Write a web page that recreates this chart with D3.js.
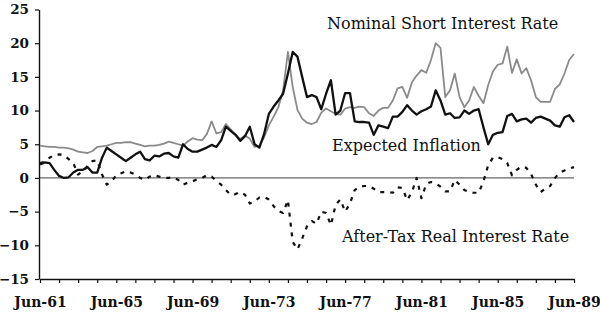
<!DOCTYPE html>
<html lang="en">
<head>
  <meta charset="UTF-8">
  <title>Interest rates and inflation</title>
  <script src="https://d3js.org/d3.v7.min.js"></script>
  <style>
    body {
      margin: 0;
      background: #fff;
    }
    .tick text {
      font-family: "DejaVu Serif", serif;
      font-weight: bold;
      font-size: 14px;
      fill: #111;
    }
    .y-axis .tick text {
      font-size: 13.5px;
    }
    .note {
      font-family: "DejaVu Serif", serif;
      font-size: 16px;
      fill: #111;
    }
    .series {
      fill: none;
      stroke-linejoin: round;
    }
  </style>
</head>
<body>
  <svg id="chart" width="600" height="334"></svg>
  <script>
    // quarterly observations, Jun-61 to Jun-89
    const quarters = d3.range(113).map(k => new Date(1961, 5 + 3 * k, 1));

    const nominal = [
      4.8, 4.7, 4.6, 4.6, 4.5, 4.5, 4.4, 4.2, 3.9, 3.8,
      3.7, 4.0, 4.6, 4.7, 4.8, 5.0, 5.2, 5.2, 5.3, 5.3,
      5.1, 4.9, 4.7, 4.8, 4.8, 4.9, 5.1, 5.4, 5.2, 5.0,
      4.8, 5.4, 5.9, 5.7, 5.6, 6.5, 8.4, 6.6, 6.8, 8.0,
      7.2, 6.4, 5.8, 6.3, 5.8, 4.6, 4.8, 6.0, 7.8, 9.1,
      10.5, 13.0, 18.7, 13.5, 10.1, 8.8, 8.2, 8.0, 8.3, 9.7,
      10.3, 9.9, 9.5, 9.4, 10.3, 10.5, 10.4, 10.6, 10.5, 9.6,
      9.2, 10.0, 10.4, 10.4, 11.5, 13.3, 13.5, 11.9, 14.2, 15.2,
      16.0, 15.6, 17.5, 20.0, 19.3, 12.0, 13.0, 15.5, 12.0, 10.5,
      11.5, 13.5, 12.2, 11.1, 13.8, 15.8, 16.8, 17.0, 19.5, 15.6,
      17.6, 15.5, 16.3, 14.5, 12.0, 11.3, 11.3, 11.3, 13.2, 13.9,
      15.5, 17.5, 18.4
    ];

    const inflation = [
      2.0, 2.3, 2.2, 1.2, 0.3, 0.0, 0.1, 0.8, 1.2, 1.2,
      1.6, 0.8, 0.8, 3.0, 4.5, 4.0, 3.5, 3.0, 2.5, 3.0,
      3.5, 3.9, 2.8, 2.6, 3.3, 3.2, 3.6, 3.7, 3.2, 3.0,
      5.0, 4.3, 3.9, 3.9, 4.2, 4.5, 4.9, 4.6, 5.6, 7.6,
      7.0, 6.4, 5.5, 6.2, 7.6, 5.0, 4.5, 6.5, 9.5, 10.6,
      11.5, 12.5, 15.5, 18.7, 18.0, 15.0, 12.0, 12.3, 12.0, 10.2,
      12.5, 14.5, 9.4, 10.0, 12.6, 12.6, 8.4, 8.3, 8.3, 8.2,
      6.4, 7.8, 7.6, 7.4, 9.1, 9.1, 9.8, 10.8, 10.0, 9.4,
      9.9, 10.2, 10.6, 13.0, 11.5, 9.4, 9.6, 8.9, 9.0, 10.0,
      9.5, 10.0, 10.2, 7.5, 5.0, 6.4, 6.7, 6.8, 9.2, 9.5,
      8.4, 8.7, 8.8, 8.2, 8.9, 9.1, 8.8, 8.5, 7.8, 7.6,
      9.0, 9.3, 8.3
    ];

    const realAfterTax = [
      2.2, 2.4, 3.0, 3.4, 3.5, 3.4, 2.8, 2.2, 0.5, 1.0,
      1.8, 2.5, 2.6, 0.5, -1.0, -0.5, 0.4, 0.7, 1.0, 0.8,
      0.5, 0.0, -0.3, 0.2, 0.4, 0.2, 0.0, 0.0, 0.1, -0.3,
      -1.0, -0.7, -0.5, -0.2, 0.0, 0.4, 0.2, -0.5, -1.0, -1.8,
      -2.5, -2.4, -2.1, -2.5, -3.8, -3.5, -2.9, -2.8, -3.2, -4.2,
      -4.9, -5.2, -3.3, -9.5, -10.6, -9.0, -7.2, -6.4, -6.8, -5.0,
      -5.2, -7.0, -4.0, -3.2, -5.0, -3.8, -1.8, -1.3, -1.2, -1.2,
      -1.6, -2.1, -2.1, -2.1, -2.2, -1.4, -1.5, -3.3, -2.1, 0.0,
      -3.0, -0.9, -0.6, -0.8, -1.3, -2.0, -2.0, -0.3, -1.0, -1.8,
      -2.1, -2.2, -2.2, -0.5, 1.9, 3.0, 3.1, 2.8, 2.2, 0.4,
      1.2, 1.7, 1.5, 0.6, -1.0, -2.1, -1.6, -1.2, 0.0, 0.8,
      1.1, 1.4, 1.6
    ];

    const yTicks = [-15, -10, -5, 0, 5, 10, 15, 20, 25];
    const labelYears = [1961, 1965, 1969, 1973, 1977, 1981, 1985, 1989];

    const svg = d3.select("#chart");

    const x = d3.scaleTime()
      .domain([new Date(1961, 5, 1), new Date(1989, 5, 1)])
      .range([40, 574]);

    const y = d3.scaleLinear()
      .domain([-15, 25])
      .range([279, 9.5]);

    // zero reference line
    svg.append("line")
      .attr("x1", x.range()[0]).attr("x2", x.range()[1])
      .attr("y1", y(0)).attr("y2", y(0))
      .attr("stroke", "#666")
      .attr("stroke-width", 1.2);

    // y axis
    const yAxis = svg.append("g")
      .attr("class", "y-axis")
      .attr("transform", `translate(${x.range()[0] - 1},0)`)
      .call(d3.axisLeft(y).tickValues(yTicks).tickSize(4).tickSizeOuter(0).tickPadding(6));
    yAxis.select(".domain").attr("stroke", "#111").attr("stroke-width", 1.4);
    yAxis.selectAll(".tick line").attr("stroke", "#111").attr("stroke-width", 1.2);

    // x axis: a tick every June, labels every four years
    const juneTicks = d3.range(1961, 1990).map(yr => new Date(yr, 5, 1));
    const xAxis = svg.append("g")
      .attr("transform", `translate(0,${y(-15)})`)
      .call(d3.axisBottom(x)
        .tickValues(juneTicks)
        .tickSize(4)
        .tickSizeOuter(0)
        .tickPadding(14)
        .tickFormat(d => labelYears.includes(d.getFullYear()) ? d3.timeFormat("Jun-%y")(d) : ""));
    xAxis.select(".domain").attr("stroke", "#111").attr("stroke-width", 1.4);
    xAxis.selectAll(".tick line").attr("stroke", "#111").attr("stroke-width", 1.2);

    const line = d3.line()
      .x((d, i) => x(quarters[i]))
      .y(d => y(d));

    svg.append("path")
      .attr("class", "series")
      .attr("d", line(nominal))
      .attr("stroke", "#8a8a8a")
      .attr("stroke-width", 1.8);

    svg.append("path")
      .attr("class", "series")
      .attr("d", line(inflation))
      .attr("stroke", "#111")
      .attr("stroke-width", 2.3);

    svg.append("path")
      .attr("class", "series")
      .attr("d", line(realAfterTax))
      .attr("stroke", "#111")
      .attr("stroke-width", 2.2)
      .attr("stroke-dasharray", "4,6");

    // series annotations
    const notes = [
      { text: "Nominal Short Interest Rate", x: 327, y: 29 },
      { text: "Expected Inflation", x: 332, y: 151 },
      { text: "After-Tax Real Interest Rate", x: 342, y: 242 }
    ];
    svg.selectAll(".note")
      .data(notes)
      .enter()
      .append("text")
      .attr("class", "note")
      .attr("x", d => d.x)
      .attr("y", d => d.y)
      .text(d => d.text);
  </script>
</body>
</html>
